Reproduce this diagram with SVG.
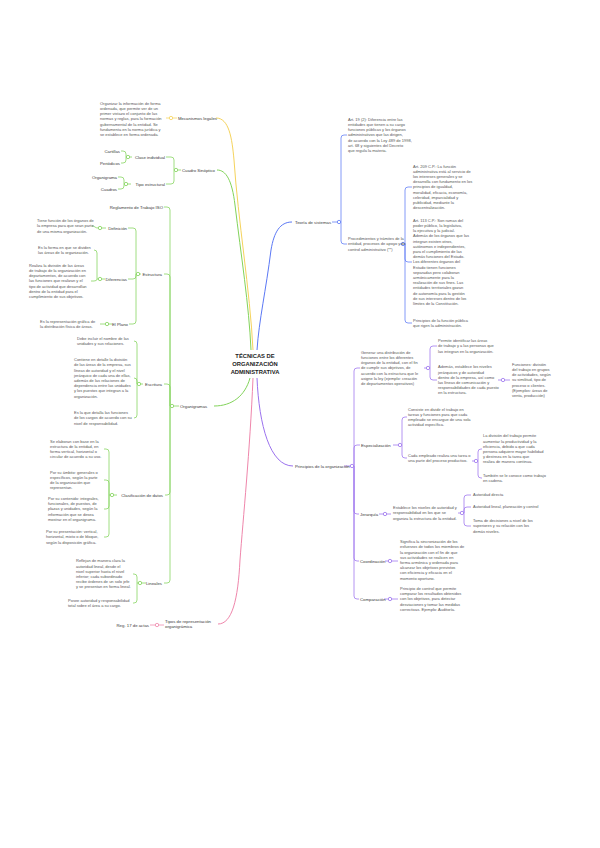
<svg xmlns="http://www.w3.org/2000/svg" width="600" height="848" viewBox="0 0 600 848">
<style>
text{font-family:"Liberation Sans",Arial,sans-serif}
.t{font-size:4px;fill:#555}
.l{font-size:4.3px;fill:#3a3a3a}
.ttl{font-size:5.8px;font-weight:bold;fill:#222;text-anchor:middle}
.e{text-anchor:end}
path{fill:none}
.m{stroke-width:1}
.b{stroke-width:0.75}
.Y{stroke:#f5d35c}
.G{stroke:#82d35a}
.B{stroke:#5b78f5}
.P{stroke:#9b72ee}
.K{stroke:#ef86ab}
circle{fill:#fff;stroke-width:0.8}
</style>
<rect width="600" height="848" fill="#fff"/>
<g id="connectors">
<path class="m Y" d="M216,118 C229,118 232,138 234,160 C238,220 250,290 253,350"/>
<path class="m G" d="M217,170 C226,170 232,180 235,205 C241,255 249,305 251,350"/>
<path class="m G" d="M214,406 C232,406 245,396 250,378"/>
<path class="m B" d="M292,222 C280,222 274,232 271,250 C266,290 259,320 257,350"/>
<path class="m P" d="M257,378 C259,425 270,466 293,466"/>
<path class="m K" d="M253,378 C250,450 243,520 240,560 C238,600 232,624 218,624"/>
<path class="b Y" d="M177,118 H166"/>
<circle class="Y" cx="171" cy="118" r="1.7"/>
<path class="b G" d="M181,170 H174 M174,170 V160 Q174,157 171,157 H166 M174,170 V181 Q174,184 171,184 H166"/>
<circle class="G" cx="176" cy="170" r="1.7"/>
<path class="b G" d="M132,157 H126 M126,157 V154 Q126,151 123,151 H121 M126,157 V160 Q126,163 123,163 H121"/>
<circle class="G" cx="128" cy="157" r="1.7"/>
<path class="b G" d="M131,184 H124 M124,184 V180 Q124,177 121,177 H118 M124,184 V186 Q124,189 121,189 H118"/>
<circle class="G" cx="126" cy="184" r="1.7"/>
<path class="b G" d="M179,406 H170 M170,406 V210 Q170,207 167,207 H164 M170,406 V277 Q170,274 167,274 H164 M170,406 V387 Q170,384 167,384 H164 M170,406 V492 Q170,495 167,495 H165 M170,406 V580 Q170,583 167,583 H164"/>
<circle class="G" cx="172" cy="406" r="1.7"/>
<path class="b G" d="M141,274 H136 M136,274 V231 Q136,228 133,228 H128 M136,274 V276 Q136,279 133,279 H128 M136,274 V321 Q136,324 133,324 H129"/>
<circle class="G" cx="138" cy="274" r="1.7"/>
<path class="b G" d="M106,228 H98 Q96,228 95,227 Q94,226 92,226"/>
<circle class="G" cx="100" cy="228" r="1.7"/>
<path class="b G" d="M105,279 H97 M97,279 V253 Q97,250 94,250 M97,279 Q97,281 94,281 H91"/>
<circle class="G" cx="100" cy="279" r="1.7"/>
<path class="b G" d="M112,324 H100"/>
<circle class="G" cx="107" cy="324" r="1.7"/>
<path class="b G" d="M143,384 H137 M137,384 V344 Q137,341 134,341 M137,384 V381 Q137,378 134,378 M137,384 V415 Q137,418 134,418"/>
<circle class="G" cx="139" cy="384" r="1.7"/>
<path class="b G" d="M117,495 H109 M109,495 V452 Q109,449 106,449 H104 M109,495 V483 Q109,480 106,480 H104 M109,495 V506 Q109,509 106,509 H104 M109,495 V534 Q109,537 106,537 H104"/>
<circle class="G" cx="112" cy="495" r="1.7"/>
<path class="b G" d="M146,583 H137 M137,583 V577 Q137,574 134,574 H133 M137,583 V600 Q137,603 134,603 H133"/>
<circle class="G" cx="140" cy="583" r="1.7"/>
<path class="b K" d="M164,625 H150"/>
<circle class="K" cx="157" cy="625" r="1.7"/>
<path class="b B" d="M332,222 H341 M341,222 V138 Q341,135 344,135 H347 M341,222 V241 Q341,244 344,244 H347"/>
<circle class="B" cx="339" cy="222" r="1.7"/>
<path class="b B" d="M400,244 H405 M405,244 V190 Q405,187 408,187 H412 M405,244 V259 Q405,262 408,262 H412 M405,244 V320 Q405,323 408,323 H412"/>
<circle class="B" cx="403" cy="244" r="1.7"/>
<path class="b P" d="M344,466 H354 M354,466 V371 Q354,368 357,368 H360 M354,466 V448 Q354,445 357,445 H360 M354,466 V511 Q354,514 357,514 H359 M354,466 V558 Q354,561 357,561 H359 M354,466 V596 Q354,599 357,599 H359"/>
<circle class="P" cx="352" cy="466" r="1.7"/>
<path class="b P" d="M424,368 H430 M430,368 V349 Q430,346 433,346 H437 M430,368 V377 Q430,380 433,380 H437"/>
<circle class="P" cx="428" cy="368" r="1.7"/>
<path class="b P" d="M498,380 H510"/>
<circle class="P" cx="503" cy="380" r="1.7"/>
<path class="b P" d="M393,445 H402 M402,445 V420 Q402,417 405,417 H407 M402,445 V455 Q402,458 405,458 H407"/>
<circle class="P" cx="400" cy="445" r="1.7"/>
<path class="b P" d="M472,461 H478 M478,461 V452 Q478,449 481,449 H482 M478,461 V475 Q478,478 481,478 H482"/>
<circle class="P" cx="476" cy="461" r="1.7"/>
<path class="b P" d="M379,514 H391"/>
<circle class="P" cx="385" cy="514" r="1.7"/>
<path class="b P" d="M458,513 H464 M464,513 V498 Q464,495 467,495 H471 M464,513 V510 Q464,507 467,507 H471 M464,513 V523 Q464,526 467,526 H471"/>
<circle class="P" cx="462" cy="513" r="1.7"/>
<path class="b P" d="M385,561 H398"/>
<circle class="P" cx="390" cy="561" r="1.7"/>
<path class="b P" d="M384,599 H398"/>
<circle class="P" cx="390" cy="599" r="1.7"/>
</g>

<g id="central">
<text class="ttl" x="255" y="358">TÉCNICAS DE</text>
<text class="ttl" x="255" y="366">ORGANIZACIÓN</text>
<text class="ttl" x="255" y="374">ADMINISTRATIVA</text>
</g>

<g id="mecanismos"><text class="l" x="178" y="119.5">Mecanismos legales</text></g>
<g id="mecanismos-texto"><text class="t" x="100" y="104.8"><tspan x="100">Organizar la información de forma</tspan><tspan x="100" dy="5.2">ordenada, que permite ver de un</tspan><tspan x="100" dy="5.2">primer vistazo el conjunto de las</tspan><tspan x="100" dy="5.2">normas y reglas, para la formación</tspan><tspan x="100" dy="5.2">gubernamental de la entidad. Se</tspan><tspan x="100" dy="5.2">fundamenta en la norma jurídica y</tspan><tspan x="100" dy="5.2">se establece en forma ordenada.</tspan></text></g>

<g id="cuadro"><text class="l" x="182" y="171.5">Cuadro Sinóptico</text></g>
<g id="clase"><text class="l e" x="165" y="158.5">Clase individual</text></g>
<g id="tipo"><text class="l e" x="165" y="185.5">Tipo estructural</text></g>
<g id="cartillas"><text class="l e" x="120" y="152.5">Cartillas</text></g>
<g id="periodicos"><text class="l e" x="120" y="164.5">Periódicos</text></g>
<g id="organigrama"><text class="l e" x="117" y="178.5">Organigrama</text></g>
<g id="cuadros"><text class="l e" x="117" y="190.5">Cuadros</text></g>

<g id="organigramas"><text class="l" x="180" y="407.5">Organigramas</text></g>
<g id="reglamento"><text class="l e" x="163" y="208.5">Reglamento de Trabajo ISO</text></g>
<g id="estructura"><text class="l e" x="162" y="275.5">Estructura</text></g>
<g id="definicion"><text class="l e" x="127" y="229.5">Definición</text></g>
<g id="definicion-texto"><text class="t" x="37" y="222.2"><tspan x="37">Tiene función de los órganos de</tspan><tspan x="37" dy="5.2">la empresa para que sean parte</tspan><tspan x="37" dy="5.2">de una misma organización.</tspan></text></g>
<g id="diferencias"><text class="l e" x="127" y="280.5">Diferencias</text></g>
<g id="diferencias-a"><text class="t" x="38" y="248.8"><tspan x="38">Es la forma en que se dividen</tspan><tspan x="38" dy="5.2">las áreas de la organización.</tspan></text></g>
<g id="diferencias-b"><text class="t" x="29" y="266.8"><tspan x="29">Realiza la división de las áreas</tspan><tspan x="29" dy="5.2">de trabajo de la organización en</tspan><tspan x="29" dy="5.2">departamentos, de acuerdo con</tspan><tspan x="29" dy="5.2">las funciones que realizan y el</tspan><tspan x="29" dy="5.2">tipo de actividad que desarrollan</tspan><tspan x="29" dy="5.2">dentro de la entidad para el</tspan><tspan x="29" dy="5.2">cumplimiento de sus objetivos.</tspan></text></g>
<g id="plano"><text class="l e" x="128" y="325.5">El Plano</text></g>
<g id="plano-texto"><text class="t" x="40" y="322.8"><tspan x="40">Es la representación gráfica de</tspan><tspan x="40" dy="5.2">la distribución física de áreas.</tspan></text></g>
<g id="escritura"><text class="l e" x="162" y="385.5">Escritura</text></g>
<g id="escritura-a"><text class="t" x="77" y="339.8"><tspan x="77">Debe incluir el nombre de las</tspan><tspan x="77" dy="5.2">unidades y sus relaciones.</tspan></text></g>
<g id="escritura-b"><text class="t" x="74" y="361.2"><tspan x="74">Contiene en detalle la división</tspan><tspan x="74" dy="5.2">de las áreas de la empresa, sus</tspan><tspan x="74" dy="5.2">líneas de autoridad y el nivel</tspan><tspan x="74" dy="5.2">jerárquico de cada una de ellas,</tspan><tspan x="74" dy="5.2">además de las relaciones de</tspan><tspan x="74" dy="5.2">dependencia entre las unidades</tspan><tspan x="74" dy="5.2">y los puestos que integran a la</tspan><tspan x="74" dy="5.2">organización.</tspan></text></g>
<g id="escritura-c"><text class="t" x="74" y="414.2"><tspan x="74">Es la que detalla las funciones</tspan><tspan x="74" dy="5.2">de los cargos de acuerdo con su</tspan><tspan x="74" dy="5.2">nivel de responsabilidad.</tspan></text></g>
<g id="clasificacion"><text class="l e" x="163" y="496.5">Clasificación de datos</text></g>
<g id="clasificacion-a"><text class="t" x="50" y="442.6"><tspan x="50">Se elaboran con base en la</tspan><tspan x="50" dy="5.2">estructura de la entidad, en</tspan><tspan x="50" dy="5.2">forma vertical, horizontal o</tspan><tspan x="50" dy="5.2">circular de acuerdo a su uso.</tspan></text></g>
<g id="clasificacion-b"><text class="t" x="50" y="473.6"><tspan x="50">Por su ámbito: generales o</tspan><tspan x="50" dy="5.2">específicos, según la parte</tspan><tspan x="50" dy="5.2">de la organización que</tspan><tspan x="50" dy="5.2">representan.</tspan></text></g>
<g id="clasificacion-c"><text class="t" x="48" y="500"><tspan x="48">Por su contenido: integrales,</tspan><tspan x="48" dy="5.2">funcionales, de puestos, de</tspan><tspan x="48" dy="5.2">plazas y unidades, según la</tspan><tspan x="48" dy="5.2">información que se desea</tspan><tspan x="48" dy="5.2">mostrar en el organigrama.</tspan></text></g>
<g id="clasificacion-d"><text class="t" x="46" y="533.2"><tspan x="46">Por su presentación: vertical,</tspan><tspan x="46" dy="5.2">horizontal, mixto o de bloque,</tspan><tspan x="46" dy="5.2">según la disposición gráfica.</tspan></text></g>
<g id="lineales"><text class="l e" x="162" y="584.5">Lineales</text></g>
<g id="lineales-a"><text class="t" x="76" y="562.4"><tspan x="76">Reflejan de manera clara la</tspan><tspan x="76" dy="5.2">autoridad lineal, desde el</tspan><tspan x="76" dy="5.2">nivel superior hasta el nivel</tspan><tspan x="76" dy="5.2">inferior; cada subordinado</tspan><tspan x="76" dy="5.2">recibe órdenes de un solo jefe</tspan><tspan x="76" dy="5.2">y se presentan en forma lineal.</tspan></text></g>
<g id="lineales-b"><text class="t" x="68" y="601.8"><tspan x="68">Posee autoridad y responsabilidad</tspan><tspan x="68" dy="5.2">total sobre el área a su cargo.</tspan></text></g>

<g id="tipos"><text class="l" x="165" y="622.5"><tspan x="165">Tipos de representación</tspan><tspan x="165" dy="5.5">organigrámica</tspan></text></g>
<g id="reg17"><text class="l e" x="149" y="626.5">Reg. 17 de actas</text></g>

<g id="teoria"><text class="l" x="295" y="223.5">Teoría de sistemas</text></g>
<g id="teoria-a"><text class="t" x="348" y="120.8"><tspan x="348">Art. 19 (2): Diferencia entre las</tspan><tspan x="348" dy="5.2">entidades que tienen a su cargo</tspan><tspan x="348" dy="5.2">funciones públicas y los órganos</tspan><tspan x="348" dy="5.2">administrativos que las dirigen,</tspan><tspan x="348" dy="5.2">de acuerdo con la Ley 489 de 1998,</tspan><tspan x="348" dy="5.2">art. 68 y siguientes del Decreto</tspan><tspan x="348" dy="5.2">que regula la materia.</tspan></text></g>
<g id="teoria-b"><text class="t" x="348" y="240.2"><tspan x="348">Procedimientos y trámites de la</tspan><tspan x="348" dy="5.2">entidad, procesos de apoyo y de</tspan><tspan x="348" dy="5.2">control administrativo (**)</tspan></text></g>
<g id="teoria-b1"><text class="t" x="413" y="167.6"><tspan x="413">Art. 209 C.P.: La función</tspan><tspan x="413" dy="5.2">administrativa está al servicio de</tspan><tspan x="413" dy="5.2">los intereses generales y se</tspan><tspan x="413" dy="5.2">desarrolla con fundamento en los</tspan><tspan x="413" dy="5.2">principios de igualdad,</tspan><tspan x="413" dy="5.2">moralidad, eficacia, economía,</tspan><tspan x="413" dy="5.2">celeridad, imparcialidad y</tspan><tspan x="413" dy="5.2">publicidad, mediante la</tspan><tspan x="413" dy="5.2">descentralización.</tspan></text></g>
<g id="teoria-b2"><text class="t" x="413" y="221.8"><tspan x="413">Art. 113 C.P.: Son ramas del</tspan><tspan x="413" dy="5.2">poder público, la legislativa,</tspan><tspan x="413" dy="5.2">la ejecutiva y la judicial.</tspan><tspan x="413" dy="5.2">Además de los órganos que las</tspan><tspan x="413" dy="5.2">integran existen otros,</tspan><tspan x="413" dy="5.2">autónomos e independientes,</tspan><tspan x="413" dy="5.2">para el cumplimiento de las</tspan><tspan x="413" dy="5.2">demás funciones del Estado.</tspan><tspan x="413" dy="5.2">Los diferentes órganos del</tspan><tspan x="413" dy="5.2">Estado tienen funciones</tspan><tspan x="413" dy="5.2">separadas pero colaboran</tspan><tspan x="413" dy="5.2">armónicamente para la</tspan><tspan x="413" dy="5.2">realización de sus fines. Las</tspan><tspan x="413" dy="5.2">entidades territoriales gozan</tspan><tspan x="413" dy="5.2">de autonomía para la gestión</tspan><tspan x="413" dy="5.2">de sus intereses dentro de los</tspan><tspan x="413" dy="5.2">límites de la Constitución.</tspan></text></g>
<g id="teoria-b3"><text class="t" x="413" y="321.8"><tspan x="413">Principios de la función pública</tspan><tspan x="413" dy="5.2">que rigen la administración.</tspan></text></g>

<g id="principios"><text class="l" x="295" y="467.5">Principios de la organización</text></g>
<g id="principios-a"><text class="t" x="361" y="353.8"><tspan x="361">Generar una distribución de</tspan><tspan x="361" dy="5.2">funciones entre los diferentes</tspan><tspan x="361" dy="5.2">órganos de la entidad, con el fin</tspan><tspan x="361" dy="5.2">de cumplir sus objetivos, de</tspan><tspan x="361" dy="5.2">acuerdo con la estructura que le</tspan><tspan x="361" dy="5.2">asigne la ley (ejemplo: creación</tspan><tspan x="361" dy="5.2">de departamentos operativos)</tspan></text></g>
<g id="principios-a1"><text class="t" x="438" y="342.2"><tspan x="438">Permite identificar las áreas</tspan><tspan x="438" dy="5.2">de trabajo y a las personas que</tspan><tspan x="438" dy="5.2">las integran en la organización.</tspan></text></g>
<g id="principios-a2"><text class="t" x="438" y="368.4"><tspan x="438">Además, establece los niveles</tspan><tspan x="438" dy="5.2">jerárquicos y de autoridad</tspan><tspan x="438" dy="5.2">dentro de la empresa, así como</tspan><tspan x="438" dy="5.2">las líneas de comunicación y</tspan><tspan x="438" dy="5.2">responsabilidades de cada puesto</tspan><tspan x="438" dy="5.2">en la estructura.</tspan></text></g>
<g id="principios-a2a"><text class="t" x="512" y="365.8"><tspan x="512">Funciones: división</tspan><tspan x="512" dy="5.2">del trabajo en grupos</tspan><tspan x="512" dy="5.2">de actividades, según</tspan><tspan x="512" dy="5.2">su similitud, tipo de</tspan><tspan x="512" dy="5.2">proceso o clientes.</tspan><tspan x="512" dy="5.2">(Ejemplos: áreas de</tspan><tspan x="512" dy="5.2">venta, producción)</tspan></text></g>
<g id="especializacion"><text class="l" x="361" y="446.5">Especialización</text></g>
<g id="especializacion-a"><text class="t" x="408" y="410.6"><tspan x="408">Consiste en dividir el trabajo en</tspan><tspan x="408" dy="5.2">tareas y funciones para que cada</tspan><tspan x="408" dy="5.2">empleado se encargue de una sola</tspan><tspan x="408" dy="5.2">actividad específica.</tspan></text></g>
<g id="especializacion-b"><text class="t" x="408" y="456.8"><tspan x="408">Cada empleado realiza una tarea o</tspan><tspan x="408" dy="5.2">una parte del proceso productivo.</tspan></text></g>
<g id="especializacion-b1"><text class="t" x="483" y="437.4"><tspan x="483">La división del trabajo permite</tspan><tspan x="483" dy="5.2">aumentar la productividad y la</tspan><tspan x="483" dy="5.2">eficiencia, debido a que cada</tspan><tspan x="483" dy="5.2">persona adquiere mayor habilidad</tspan><tspan x="483" dy="5.2">y destreza en la tarea que</tspan><tspan x="483" dy="5.2">realiza de manera continua.</tspan></text></g>
<g id="especializacion-b2"><text class="t" x="483" y="476.8"><tspan x="483">También se le conoce como trabajo</tspan><tspan x="483" dy="5.2">en cadena.</tspan></text></g>
<g id="jerarquia"><text class="l" x="360" y="515.5">Jerarquía</text></g>
<g id="jerarquia-a"><text class="t" x="393" y="509.2"><tspan x="393">Establece los niveles de autoridad y</tspan><tspan x="393" dy="5.2">responsabilidad en los que se</tspan><tspan x="393" dy="5.2">organiza la estructura de la entidad.</tspan></text></g>
<g id="autoridad-directa"><text class="t" x="473" y="496.4">Autoridad directa</text></g>
<g id="autoridad-lineal"><text class="t" x="473" y="508.4">Autoridad lineal, planeación y control</text></g>
<g id="toma-decisiones"><text class="t" x="473" y="522.2"><tspan x="473">Toma de decisiones a nivel de los</tspan><tspan x="473" dy="5.2">superiores y su relación con los</tspan><tspan x="473" dy="5.2">demás niveles.</tspan></text></g>
<g id="coordinacion"><text class="l" x="360" y="562.5">Coordinación</text></g>
<g id="coordinacion-a"><text class="t" x="400" y="543.2"><tspan x="400">Significa la sincronización de los</tspan><tspan x="400" dy="5.2">esfuerzos de todos los miembros de</tspan><tspan x="400" dy="5.2">la organización con el fin de que</tspan><tspan x="400" dy="5.2">sus actividades se realicen en</tspan><tspan x="400" dy="5.2">forma armónica y ordenada para</tspan><tspan x="400" dy="5.2">alcanzar los objetivos previstos</tspan><tspan x="400" dy="5.2">con eficiencia y eficacia en el</tspan><tspan x="400" dy="5.2">momento oportuno.</tspan></text></g>
<g id="comparacion"><text class="l" x="360" y="600.5">Comparación</text></g>
<g id="comparacion-a"><text class="t" x="400" y="590"><tspan x="400">Principio de control que permite</tspan><tspan x="400" dy="5.2">comparar los resultados obtenidos</tspan><tspan x="400" dy="5.2">con los objetivos, para detectar</tspan><tspan x="400" dy="5.2">desviaciones y tomar las medidas</tspan><tspan x="400" dy="5.2">correctivas. Ejemplo: Auditoría.</tspan></text></g>
</svg>
